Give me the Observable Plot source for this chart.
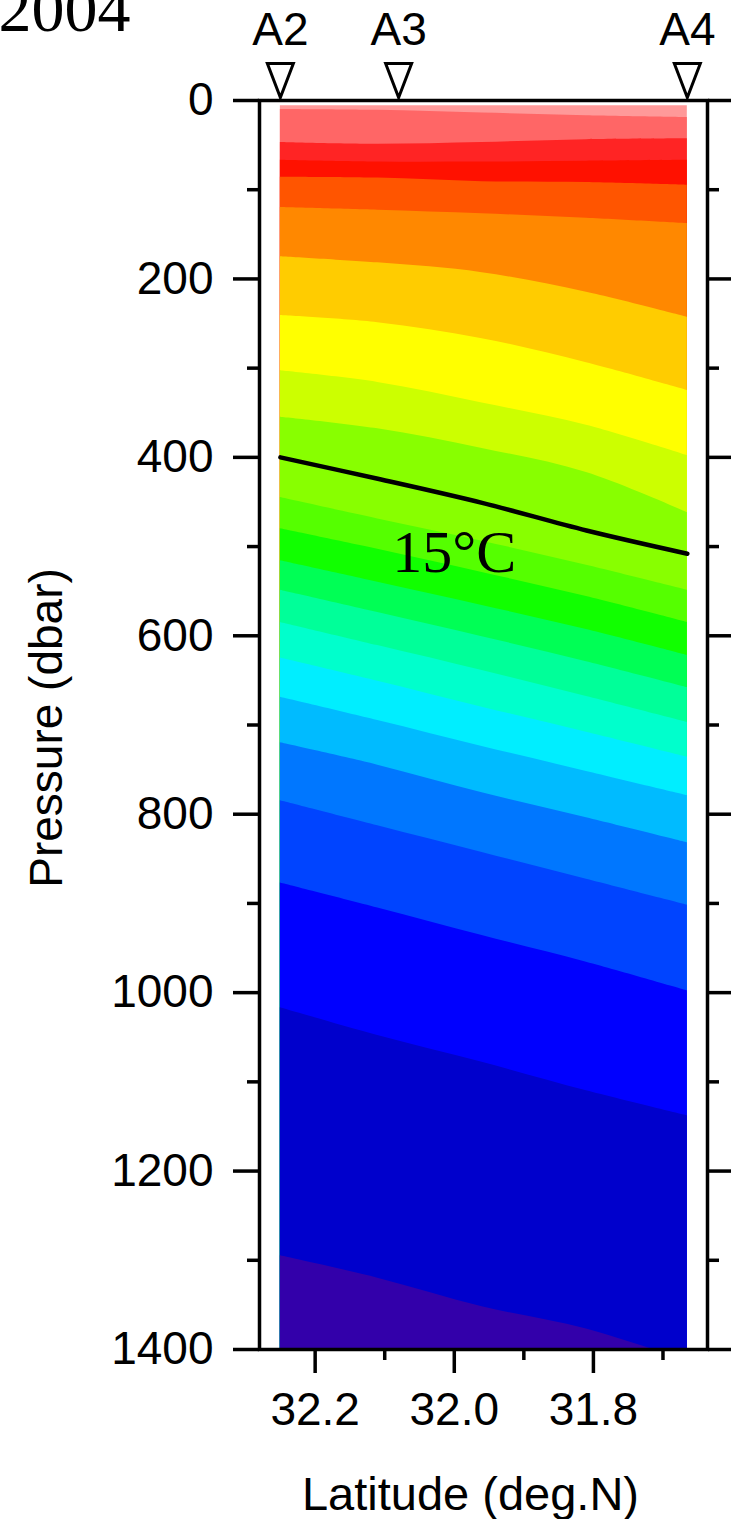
<!DOCTYPE html>
<html>
<head>
<meta charset="utf-8">
<script src="https://cdn.jsdelivr.net/npm/d3@7"></script>
<script src="https://cdn.jsdelivr.net/npm/@observablehq/plot@0.6"></script>
<style>
  html, body { margin: 0; padding: 0; background: #fff; }
  #chart { position: relative; width: 734px; height: 1519px; overflow: hidden; }
</style>
</head>
<body>
<div id="chart"></div>
<script>
// Latitudes (deg N) at which band boundaries were read
const latitudes = [32.25, 32.11, 31.96, 31.81, 31.665];

// Depths (dbar) of the colour-band boundaries, top to bottom
const surface = [6, 6, 6, 6, 6];
const b01 = [10, 11, 14, 17, 19];
const b02 = [47, 49, 47, 44, 43];
const b03 = [67, 69, 69, 68, 67];
const b04 = [86, 87, 91, 92, 95];
const b05 = [120, 123, 127, 132, 138];
const b06 = [175, 182, 193, 215, 243];
const b07 = [241, 249, 267, 294, 325];
const b08 = [303, 316, 339, 364, 398];
const b09 = [355, 368, 390, 417, 462];
const b10 = [445, 469, 494, 521, 549];
const b11 = [480, 503, 529, 556, 585];
const b12 = [516, 540, 566, 593, 622];
const b13 = [549, 574, 601, 629, 658];
const b14 = [585, 611, 639, 668, 697];
const b15 = [625, 651, 680, 708, 736];
const b16 = [669, 695, 724, 752, 779];
const b17 = [720, 745, 776, 804, 832];
const b18 = [785, 813, 843, 873, 902];
const b19 = [877, 905, 936, 966, 998];
const b20 = [1017, 1048, 1078, 1110, 1138];
const b21 = [1295, 1320, 1352, 1377, 1413];

// 15 degC isotherm (dbar)
const iso15 = [400, 424, 451, 482, 508];

// Colour of the band lying below each boundary
const bandColors = ["#FF9999", "#FF6666", "#FF2424", "#FF1100", "#FF5500", "#FF8800",
  "#FFCC00", "#FFFF00", "#CCFF00", "#88FF00", "#55FF00", "#11FF00", "#00FF55",
  "#00FF99", "#00FFCC", "#00EEFF", "#00BBFF", "#0077FF", "#0044FF", "#0000FF",
  "#0000CC", "#3300AA"];

// Stations
const stationNames = ["A2", "A3", "A4"];
const stationLats = [32.25, 32.08, 31.665];

// Isotherm label
const isoLabelText = ["15°C"];
const isoLabelLat = [32.0];
const isoLabelPressure = [507];

// Ticks
const pressureTicks = [0, 200, 400, 600, 800, 1000, 1200, 1400];
const pressureMinor = [100, 300, 500, 700, 900, 1100, 1300];
const latTicks = [32.2, 32.0, 31.8];
const latMinor = [32.1, 31.9, 31.7];

// ---- build tables ----
const boundaries = [surface, b01, b02, b03, b04, b05, b06, b07, b08, b09, b10,
  b11, b12, b13, b14, b15, b16, b17, b18, b19, b20, b21];
const pMax = 1400;
const rows = latitudes.map((lat, j) => {
  const r = {lat, iso15: iso15[j]};
  boundaries.forEach((b, i) => { r["b" + i] = b[j]; });
  return r;
});
const stations = stationNames.map((name, i) => ({name, lat: stationLats[i]}));
const isoLabels = isoLabelText.map((t, i) => ({t, lat: isoLabelLat[i], p: isoLabelPressure[i]}));

const bandMarks = boundaries.map((b, i) =>
  Plot.areaY(rows, {x: "lat", y1: "b" + i, y2: () => pMax, fill: bandColors[i], curve: "catmull-rom", clip: true})
);

const invTriangle = {
  draw(ctx) {
    ctx.moveTo(-13, -37);
    ctx.lineTo(13, -37);
    ctx.lineTo(0, -3);
    ctx.closePath();
  }
};

const sans = "'Liberation Sans', Arial, Helvetica, sans-serif";
const serif = "'Liberation Serif', 'Times New Roman', serif";
const lw = 3.5;

const chart = Plot.plot({
  width: 734,
  height: 1519,
  marginLeft: 259,
  marginRight: 27,
  marginTop: 100,
  marginBottom: 170,
  x: {domain: [32.28, 31.636], label: null},
  y: {domain: [0, pMax], reverse: true, label: null},
  style: {fontFamily: sans, fontSize: "46px", color: "black", background: "white", overflow: "visible"},
  marks: [
    ...bandMarks,
    Plot.line(rows, {x: "lat", y: "iso15", stroke: "black", strokeWidth: 4.5, curve: "catmull-rom"}),
    Plot.text(isoLabels, {x: "lat", y: "p", text: "t", fontFamily: serif, fontSize: 60, lineAnchor: "middle", fill: "black"}),
    Plot.frame({stroke: "black", strokeWidth: lw}),
    Plot.axisY({anchor: "left", ticks: pressureTicks, tickSize: 26, tickPadding: 20, fontSize: 46, strokeWidth: lw, tickFormat: d => String(d), label: null}),
    Plot.axisY({anchor: "left", ticks: pressureMinor, tickSize: 12, fill: "none", strokeWidth: lw, label: null}),
    Plot.axisY({anchor: "right", ticks: pressureTicks, tickSize: 23, fill: "none", strokeWidth: lw, label: null}),
    Plot.axisY({anchor: "right", ticks: pressureMinor, tickSize: 11, fill: "none", strokeWidth: lw, label: null}),
    Plot.axisX({anchor: "bottom", ticks: latTicks, tickSize: 24, tickPadding: 19, fontSize: 46, strokeWidth: lw, tickFormat: d3.format(".1f"), label: null}),
    Plot.axisX({anchor: "bottom", ticks: latMinor, tickSize: 11, fill: "none", strokeWidth: lw, label: null}),
    Plot.dot(stations, {x: "lat", frameAnchor: "top", symbol: invTriangle, fill: "white", stroke: "black", strokeWidth: 3}),
    Plot.text(stations, {x: "lat", text: "name", frameAnchor: "top", dy: -70, fontSize: 46, lineAnchor: "middle"}),
    Plot.text(["Latitude (deg.N)"], {text: d => d, frameAnchor: "bottom", textAnchor: "middle", dx: -13, dy: 145, fontSize: 47, lineAnchor: "middle"}),
    Plot.text(["Pressure (dbar)"], {text: d => d, frameAnchor: "left", textAnchor: "middle", dx: -212, dy: 3, rotate: -90, fontSize: 46, lineAnchor: "middle"}),
    Plot.text(["2004"], {text: d => d, frameAnchor: "top-left", dx: -261, dy: -91, textAnchor: "start", lineAnchor: "middle", fontSize: 66, fontFamily: serif})
  ]
});

document.getElementById("chart").appendChild(chart);
</script>
</body>
</html>
